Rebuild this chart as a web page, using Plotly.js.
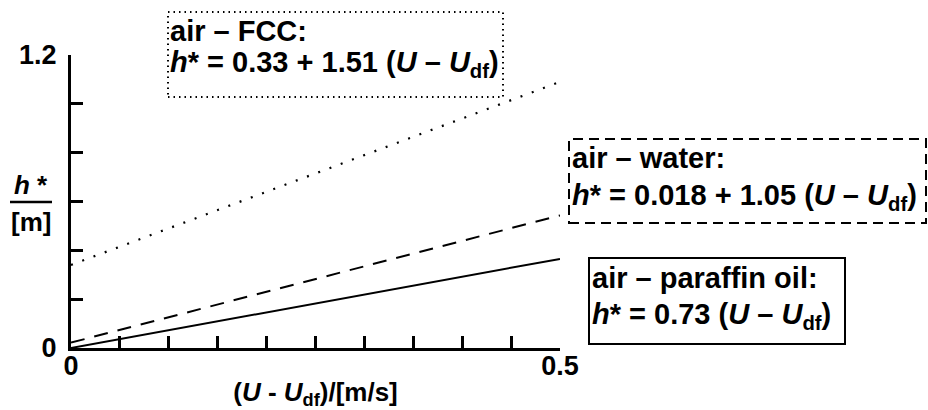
<!DOCTYPE html>
<html>
<head>
<meta charset="utf-8">
<script src="https://cdn.plot.ly/plotly-3.0.1.min.js"></script>
<style>html,body{margin:0;padding:0;background:#fff;}#chart{width:928px;height:410px;}</style>
</head>
<body>
<div id="chart"></div>
<script>
// Data
const xValues = [0, 0.5];
const paraffinOil = [0, 0.365];     // h* = 0.73 (U - Udf)
const airWater = [0.022, 0.543];    // h* = 0.018 + 1.05 (U - Udf)
const airFCC = [0.34, 1.09];        // h* = 0.33 + 1.51 (U - Udf)

const xTickVals = [0, 0.5];
const xTickText = ['0', '0.5'];
const yTickVals = [0, 1.2];
const yTickText = ['0', '1.2'];
const xMinorStep = 0.05;
const yMinorStep = 0.2;

const FONT = 'Liberation Sans, Arial, sans-serif';
const txtFont = {family: FONT, size: 29, color: '#000'};

// plot area: left 71px, right 560px, top 55px, bottom 348px
const L = 71, R = 560, T = 55, B = 348;
const px = v => (v - L) / (R - L);
const py = v => (B - v) / (B - T);

const traces = [
  {x: xValues, y: paraffinOil, mode: 'lines', line: {color: '#000', width: 2, dash: 'solid'}, name: 'air – paraffin oil'},
  {x: xValues, y: airWater, mode: 'lines', line: {color: '#000', width: 2, dash: '14px,10px'}, name: 'air – water'},
  {x: xValues, y: airFCC, mode: 'lines', line: {color: '#000', width: 2.2, dash: '2px,10px'}, name: 'air – FCC'}
];

function ann(x, y, text, extra) {
  return Object.assign({xref: 'paper', yref: 'paper', x: px(x), y: py(y), text: '<b>' + text + '</b>',
    showarrow: false, xanchor: 'left', yanchor: 'middle', align: 'left', font: txtFont}, extra || {});
}

const eqU = '(<i>U</i> – <i>U</i><sub>df</sub>)';
const tickFont = {family: FONT, size: 27, color: '#000', weight: 'bold'};

const layout = {
  width: 928, height: 410,
  margin: {l: L, r: 928 - R, t: T, b: 410 - B},
  paper_bgcolor: '#fff', plot_bgcolor: '#fff',
  showlegend: false,
  xaxis: {
    range: [0, 0.5], showgrid: false, zeroline: false,
    showline: true, linecolor: '#000', linewidth: 3,
    tickmode: 'array', tickvals: xTickVals, ticktext: xTickText,
    ticks: 'inside', ticklen: 12, tickwidth: 3, tickcolor: '#000',
    minor: {dtick: xMinorStep, tick0: 0, ticks: 'inside', ticklen: 12, tickwidth: 3, tickcolor: '#000', showgrid: false},
    tickfont: tickFont,
    ticklabelstandoff: -8,
    title: {text: '<b>(<i>U</i> - <i>U</i><sub>df</sub>)/[m/s]</b>', font: {family: FONT, size: 26, color: '#000'}, standoff: 8}
  },
  yaxis: {
    range: [0, 1.2], showgrid: false, zeroline: false,
    showline: true, linecolor: '#000', linewidth: 3,
    tickmode: 'array', tickvals: yTickVals, ticktext: yTickText,
    ticks: 'inside', ticklen: 12, tickwidth: 3, tickcolor: '#000',
    minor: {dtick: yMinorStep, tick0: 0, ticks: 'inside', ticklen: 12, tickwidth: 3, tickcolor: '#000', showgrid: false},
    tickfont: tickFont,
    ticklabelstandoff: 6
  },
  shapes: [
    {type: 'rect', xref: 'paper', yref: 'paper', x0: px(168), x1: px(503), y0: py(97), y1: py(12),
     line: {color: '#000', width: 2, dash: '1.5px,4px'}},
    {type: 'rect', xref: 'paper', yref: 'paper', x0: px(569), x1: px(926), y0: py(223), y1: py(139),
     line: {color: '#000', width: 2, dash: '10px,6px'}},
    {type: 'rect', xref: 'paper', yref: 'paper', x0: px(589), x1: px(845), y0: py(344), y1: py(258),
     line: {color: '#000', width: 2}},
    {type: 'line', xref: 'paper', yref: 'paper', x0: px(10), x1: px(52), y0: py(202), y1: py(202),
     line: {color: '#000', width: 2.5}}
  ],
  annotations: [
    ann(168, 31, 'air – FCC:'),
    ann(168, 64, '<i>h</i>* = 0.33 + 1.51 ' + eqU),
    ann(570, 158, 'air – water:'),
    ann(570, 197, '<i>h</i>* = 0.018 + 1.05 ' + eqU),
    ann(590, 278, 'air – paraffin oil:'),
    ann(590, 316, '<i>h</i>* = 0.73 ' + eqU),
    ann(31, 185, '<i>h</i> *', {xanchor: 'center', align: 'center', font: {family: FONT, size: 26, color: '#000'}}),
    ann(31, 222, '[m]', {xanchor: 'center', align: 'center', font: {family: FONT, size: 26, color: '#000'}})
  ]
};

Plotly.newPlot('chart', traces, layout, {displayModeBar: false, staticPlot: true});
</script>
</body>
</html>
